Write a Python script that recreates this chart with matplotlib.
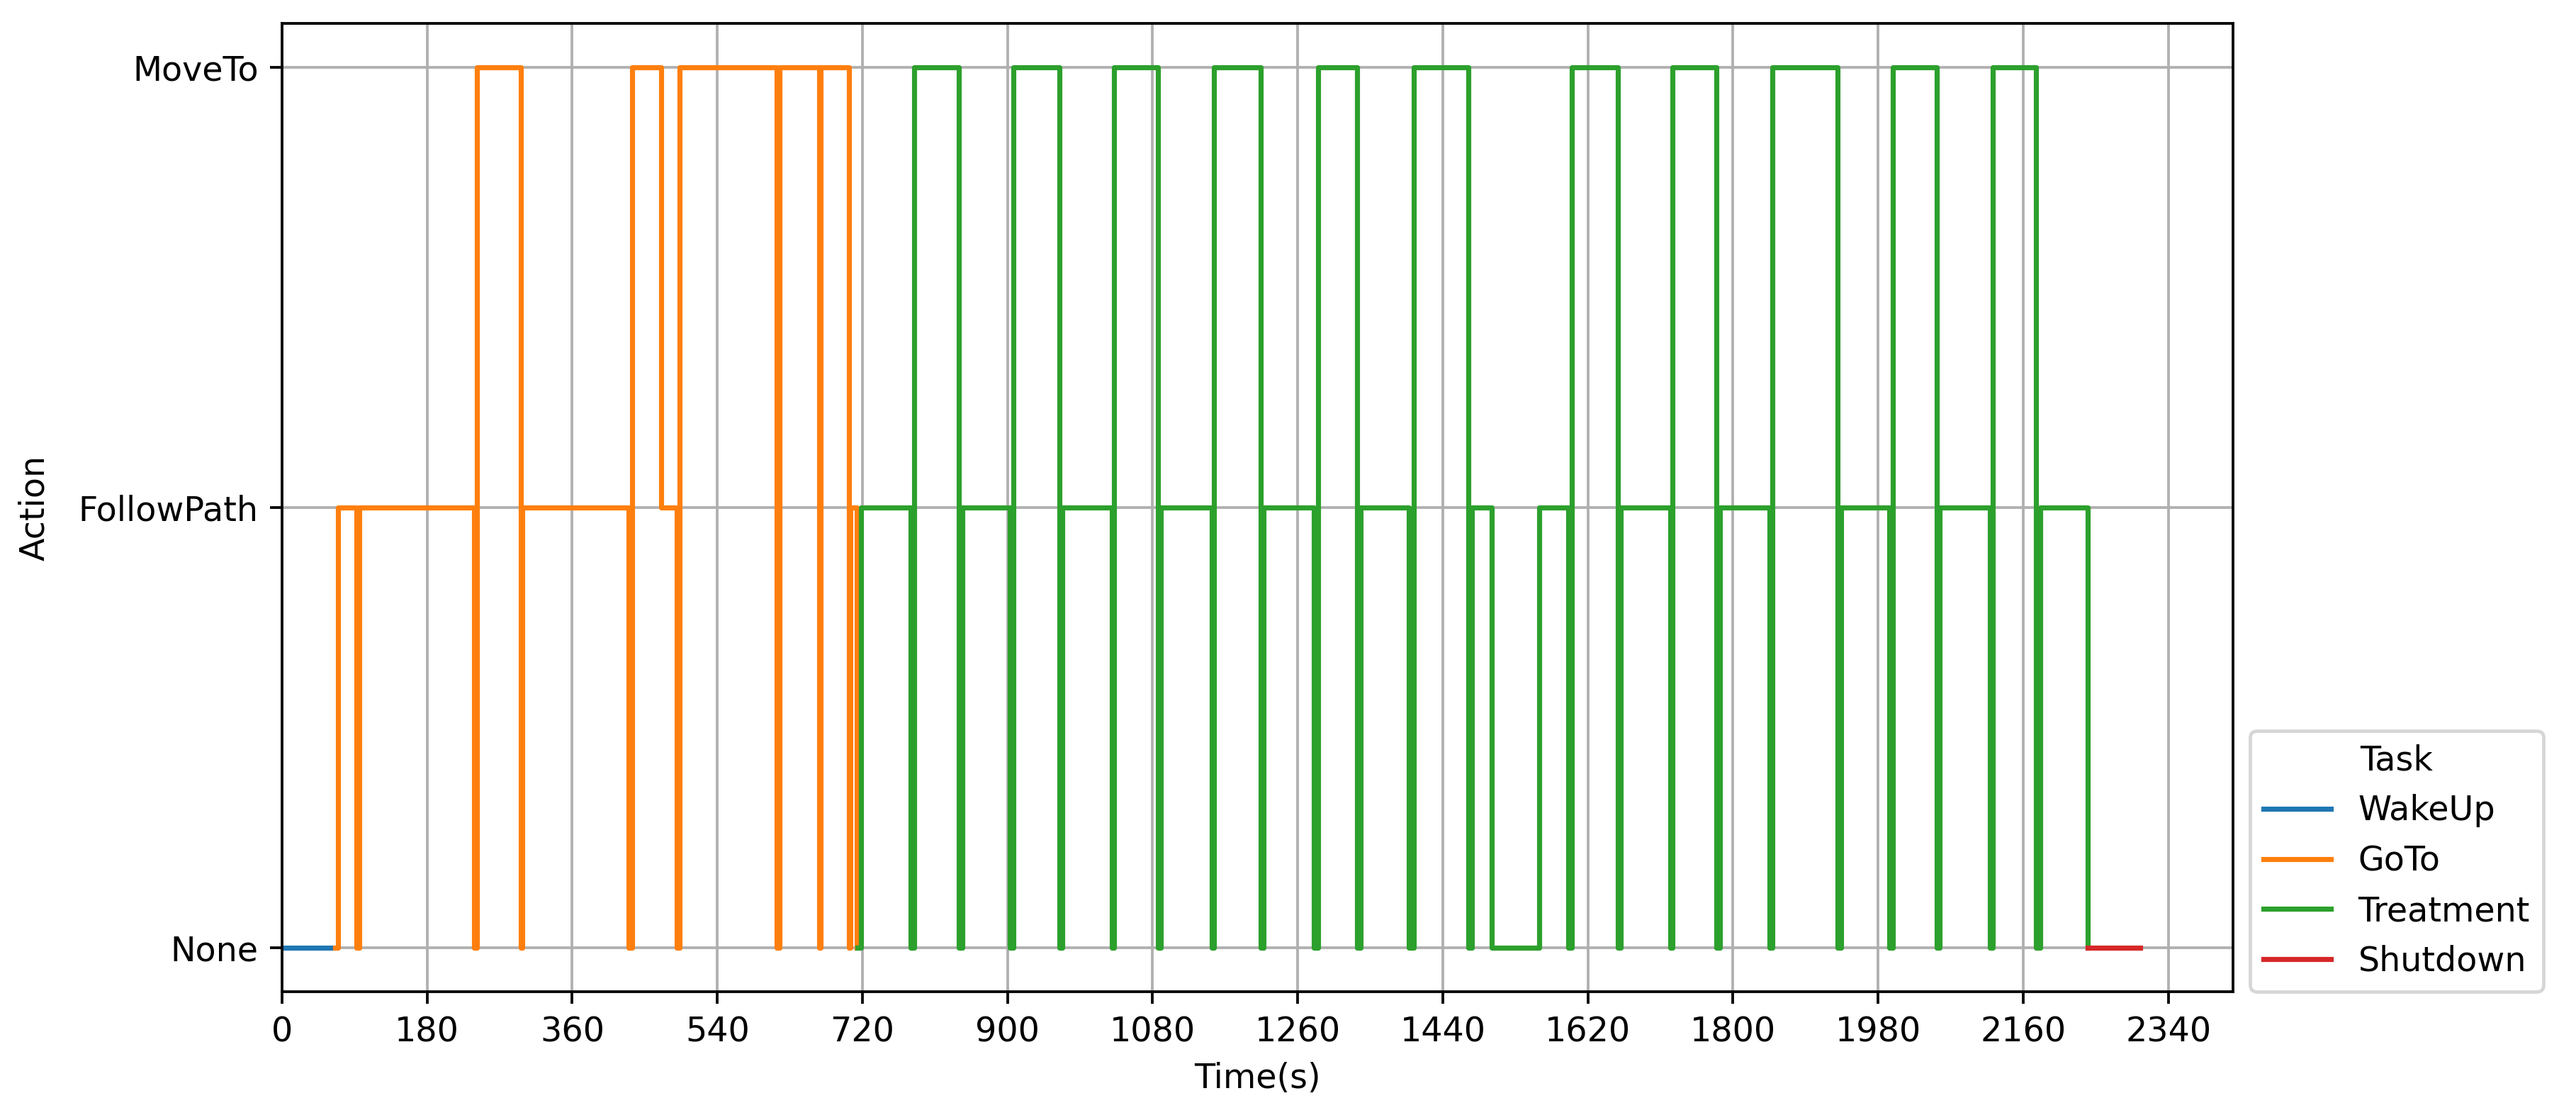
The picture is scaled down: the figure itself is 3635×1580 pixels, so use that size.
import matplotlib
matplotlib.use("Agg")
import matplotlib.pyplot as plt
from matplotlib.ticker import MultipleLocator

# action levels on the y axis
actions = ["None", "FollowPath", "MoveTo"]

# each task: switch times (s) and the action that starts at that time
wakeup_t = [0, 64]
wakeup_a = ["None", "None"]

goto_t = [66, 69.5, 92, 96, 238, 242, 296, 298, 430, 434, 470.5, 490, 493,
          614, 617, 666, 668.5, 703, 705, 713]
goto_a = ["None", "FollowPath", "None", "FollowPath", "None", "MoveTo", "None",
          "FollowPath", "None", "MoveTo", "FollowPath", "None", "MoveTo",
          "None", "MoveTo", "None", "MoveTo", "None", "FollowPath", "None"]

treat_t = [714, 718, 780, 784, 840, 844, 902.5, 907.5, 964, 968, 1029.5, 1032,
           1087, 1090, 1153, 1156, 1214, 1218, 1280, 1285, 1334, 1338, 1398,
           1404, 1472, 1476.5, 1501, 1560, 1596, 1600, 1657, 1661, 1722, 1725,
           1779.5, 1783.5, 1845, 1849, 1930, 1934, 1994, 1998, 2053, 2056.5,
           2118.5, 2122, 2175.5, 2181, 2240]
treat_a = ["None", "FollowPath", "None", "MoveTo", "None", "FollowPath",
           "None", "MoveTo", "None", "FollowPath", "None", "MoveTo",
           "None", "FollowPath", "None", "MoveTo", "None", "FollowPath",
           "None", "MoveTo", "None", "FollowPath", "None", "MoveTo",
           "None", "FollowPath", "None", "FollowPath", "None", "MoveTo",
           "None", "FollowPath", "None", "MoveTo", "None", "FollowPath",
           "None", "MoveTo", "None", "FollowPath", "None", "MoveTo",
           "None", "FollowPath", "None", "MoveTo", "None", "FollowPath", "None"]

shutdown_t = [2240, 2305]
shutdown_a = ["None", "None"]

tasks = ["WakeUp", "GoTo", "Treatment", "Shutdown"]
series = [(wakeup_t, wakeup_a), (goto_t, goto_a), (treat_t, treat_a),
          (shutdown_t, shutdown_a)]

DPI = 343
fig = plt.figure(figsize=(3635 / DPI, 1580 / DPI), dpi=DPI)
ax = fig.add_subplot(111)
fig.subplots_adjust(left=398 / 3635, right=3151 / 3635,
                    top=1 - 33 / 1580, bottom=1 - 1399 / 1580)

for name, (t, a), c in zip(tasks, series, ["C0", "C1", "C2", "C3"]):
    y = [actions.index(v) for v in a]
    ax.plot(t, y, drawstyle="steps-post", color=c, lw=1.5, label=name)

ax.set_yticks(range(len(actions)))
ax.set_yticklabels(actions)
ax.xaxis.set_major_locator(MultipleLocator(180))
ax.set_xlim(left=0)
ax.grid(True)
ax.set_xlabel("Time(s)")
ax.set_ylabel("Action", labelpad=8)

ax.legend(title="Task", loc="lower left", bbox_to_anchor=(1 + 24 / 2753, 0),
          borderaxespad=0)

fig.savefig("out.png", dpi=DPI)
